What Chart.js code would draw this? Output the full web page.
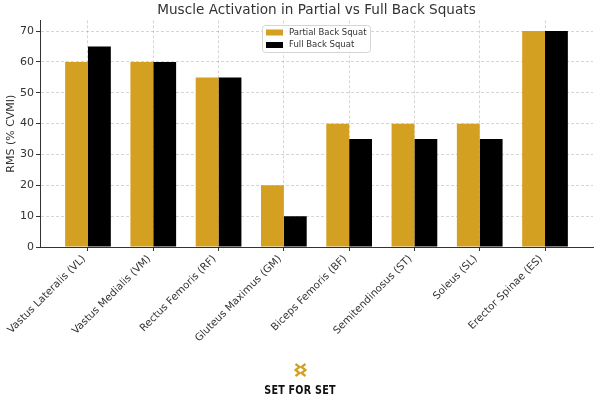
<!DOCTYPE html>
<html>
<head>
<meta charset="utf-8">
<script src="https://cdn.jsdelivr.net/npm/chart.js@4"></script>
<style>
    html, body { margin: 0; padding: 0; background: #fff; }
    #wrap { position: relative; width: 600px; height: 400px; }
    #logo { position: absolute; left: 0; width: 600px; top: 363px; text-align: center; }
    #logo svg { display: block; margin: 0 auto; }
    #logo .name { font-family: 'DejaVu Sans', sans-serif; font-weight: bold; font-size: 12px; color: #111;
        transform: scaleX(0.8); margin-top: 6px; letter-spacing: 0.3px; }
</style>
</head>
<body>
<div id="wrap">
    <canvas id="chart" width="600" height="400"></canvas>
    <div id="logo">
        <svg width="13" height="14" viewBox="0 0 13 14">
            <path d="M1.5 1 L5.5 4 L1.5 7 L5.5 10 L1.5 13" fill="none" stroke="#d4a021" stroke-width="2.2"/>
            <path d="M11.5 1 L7.5 4 L11.5 7 L7.5 10 L11.5 13" fill="none" stroke="#d4a021" stroke-width="2.2"/>
        </svg>
        <div class="name">SET FOR SET</div>
    </div>
</div>
<script>
// البيانات
const muscles = ['Vastus Lateralis (VL)', 'Vastus Medialis (VM)', 'Rectus Femoris (RF)', 'Gluteus Maximus (GM)',
    'Biceps Femoris (BF)', 'Semitendinosus (ST)', 'Soleus (SL)', 'Erector Spinae (ES)'];
const partialSquat = [60, 60, 55, 20, 40, 40, 40, 70];
const fullSquat = [65, 60, 55, 10, 35, 35, 35, 70];
const yTicks = [0, 10, 20, 30, 40, 50, 60, 70];

const GOLD = '#d4a021';
const FONT = "'DejaVu Sans', sans-serif";
const GRID = 'rgba(0,0,0,0.16)';

// legend drawn inside the plot, like matplotlib's
const insideLegend = {
    id: 'insideLegend',
    afterDraw(chart) {
        const ctx = chart.ctx;
        const x = 262, y = 25, w = 108, h = 27;
        ctx.save();
        ctx.fillStyle = 'rgba(255,255,255,0.85)';
        ctx.strokeStyle = '#d5d5d5';
        ctx.lineWidth = 1;
        ctx.beginPath();
        ctx.roundRect(x + 0.5, y + 0.5, w, h, 3);
        ctx.fill();
        ctx.stroke();
        ctx.font = '8.5px ' + FONT;
        ctx.textBaseline = 'middle';
        chart.data.datasets.forEach((ds, i) => {
            const ry = y + 7.5 + i * 12.5;
            ctx.fillStyle = ds.backgroundColor;
            ctx.fillRect(x + 4, ry - 3, 17, 6);
            ctx.fillStyle = '#333';
            ctx.fillText(ds.label, x + 27, ry);
        });
        ctx.restore();
    }
};

new Chart(document.getElementById('chart').getContext('2d'), {
    type: 'bar',
    data: {
        datasets: [
            { label: 'Partial Back Squat', data: partialSquat.map((v, i) => ({ x: i, y: v })), backgroundColor: GOLD },
            { label: 'Full Back Squat', data: fullSquat.map((v, i) => ({ x: i, y: v })), backgroundColor: '#000000' }
        ]
    },
    options: {
        responsive: false,
        animation: false,
        categoryPercentage: 0.7,
        barPercentage: 1.0,
        layout: { padding: { left: 0, right: 7, top: 0, bottom: 0 } },
        scales: {
            x: {
                type: 'linear',
                offset: false,
                min: -0.735,
                max: 7.735,
                z: 1,
                afterBuildTicks: (scale) => { scale.ticks = muscles.map((_, i) => ({ value: i })); },
                afterFit: (scale) => { scale.height = 153; },
                ticks: {
                    autoSkip: false,
                    minRotation: 45,
                    maxRotation: 45,
                    padding: 2,
                    labelOffset: -4,
                    color: '#333',
                    font: { family: FONT, size: 10.3 },
                    callback: (v) => muscles[v]
                },
                grid: {
                    offset: false,
                    color: GRID,
                    tickBorderDash: [],
                    tickColor: '#333',
                    tickLength: 4
                },
                border: { display: true, color: '#333', width: 1, dash: [3, 2] }
            },
            y: {
                min: 0,
                max: 73.5,
                z: 1,
                afterBuildTicks: (scale) => { scale.ticks = yTicks.map(v => ({ value: v })); },
                afterFit: (scale) => { scale.width = 40; },
                ticks: {
                    padding: 2,
                    color: '#333',
                    font: { family: FONT, size: 11 }
                },
                grid: {
                    color: GRID,
                    tickBorderDash: [],
                    tickColor: '#333',
                    tickLength: 4
                },
                border: { display: true, color: '#333', width: 1, dash: [3, 2] },
                title: {
                    display: true,
                    text: 'RMS (% CVMI)',
                    color: '#333',
                    font: { family: FONT, size: 11 },
                    padding: { top: 5, bottom: 0 }
                }
            }
        },
        plugins: {
            legend: { display: false },
            tooltip: { enabled: false },
            title: {
                display: true,
                fullSize: false,
                text: 'Muscle Activation in Partial vs Full Back Squats',
                color: '#333',
                font: { family: FONT, size: 13.6, weight: 'normal' },
                padding: { top: 2, bottom: 2 }
            }
        }
    },
    plugins: [insideLegend]
});
</script>
</body>
</html>
